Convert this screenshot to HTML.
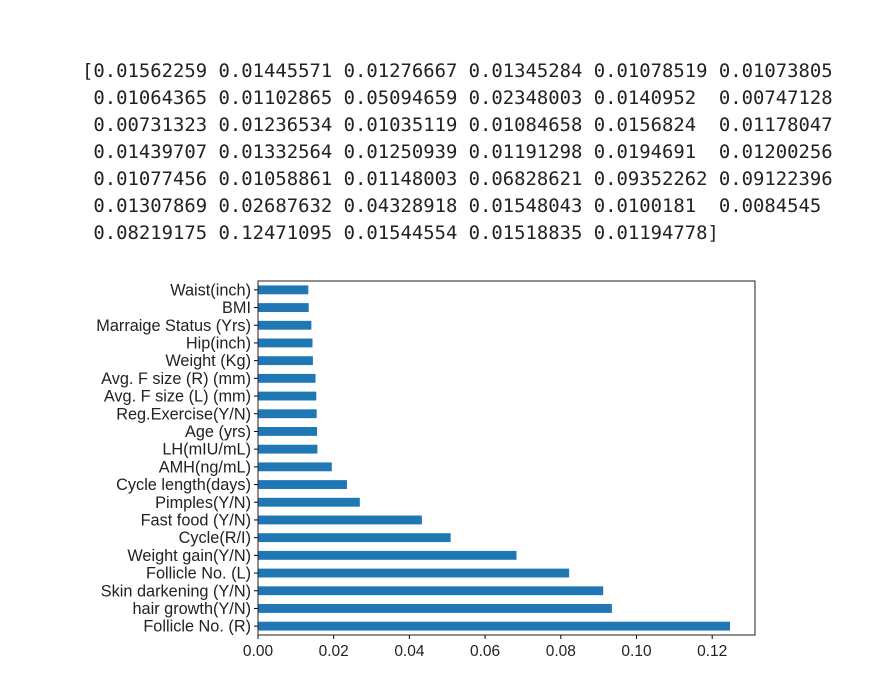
<!DOCTYPE html>
<html><head><meta charset="utf-8"><style>
body{margin:0;background:#fff;width:882px;height:673px;overflow:hidden;font-family:"DejaVu Sans","Liberation Sans",sans-serif}
pre{position:absolute;left:82px;top:58px;margin:0;font-family:"DejaVu Sans Mono","Liberation Mono",monospace;font-size:18.9px;line-height:27px;color:#222}
svg{position:absolute;left:0;top:0}
</style></head><body>
<pre>[0.01562259 0.01445571 0.01276667 0.01345284 0.01078519 0.01073805
 0.01064365 0.01102865 0.05094659 0.02348003 0.0140952  0.00747128
 0.00731323 0.01236534 0.01035119 0.01084658 0.0156824  0.01178047
 0.01439707 0.01332564 0.01250939 0.01191298 0.0194691  0.01200256
 0.01077456 0.01058861 0.01148003 0.06828621 0.09352262 0.09122396
 0.01307869 0.02687632 0.04328918 0.01548043 0.0100181  0.0084545
 0.08219175 0.12471095 0.01544554 0.01518835 0.01194778]</pre>
<svg id="chart" width="882" height="673"></svg>
<script>
const categories=["Follicle No. (R)","hair growth(Y/N)","Skin darkening (Y/N)","Follicle No. (L)","Weight gain(Y/N)","Cycle(R/I)","Fast food (Y/N)","Pimples(Y/N)","Cycle length(days)","AMH(ng/mL)","LH(mIU/mL)","Age (yrs)","Reg.Exercise(Y/N)","Avg. F size (L) (mm)","Avg. F size (R) (mm)","Weight (Kg)","Hip(inch)","Marraige Status (Yrs)","BMI","Waist(inch)"];
const values=[0.1247,0.0935,0.0912,0.0822,0.0683,0.0509,0.0433,0.0269,0.0235,0.0195,0.0157,0.0156,0.0155,0.0154,0.0152,0.0145,0.0144,0.0141,0.0134,0.0133];
const xTicks=[0,0.02,0.04,0.06,0.08,0.10,0.12];
const xTickLabels=["0.00","0.02","0.04","0.06","0.08","0.10","0.12"];
const svg=document.getElementById('chart');const NS='http://www.w3.org/2000/svg';
const L=258,R=755,T=281,B=635;
const xs=v=>L+v*(75.7/0.02);
const slot=(B-T)/categories.length;
const ys=i=>B-slot*(i+0.5);
function mk(t,a,p){const e=document.createElementNS(NS,t);for(const k in a)e.setAttribute(k,a[k]);(p||svg).appendChild(e);return e;}
values.forEach((v,i)=>{
 const r=mk('rect',{x:L,y:ys(i)-slot*0.25,width:xs(v)-L,height:slot*0.5,fill:'#1f77b4'});
 
 
 mk('line',{x1:L-4,x2:L,y1:ys(i),y2:ys(i),stroke:'#000','stroke-width':1});
 const t=mk('text',{x:L-7,y:ys(i)+5.5,'text-anchor':'end','font-size':'16.3','font-family':'Liberation Sans, sans-serif',fill:'#222'});
 t.textContent=categories[i];
 
 
});
xTicks.forEach((v,i)=>{
 mk('line',{x1:xs(v),x2:xs(v),y1:B,y2:B+4,stroke:'#000','stroke-width':1});
 const t=mk('text',{x:xs(v),y:B+21,'text-anchor':'middle','font-size':'15.5','font-family':'Liberation Sans, sans-serif',fill:'#222'});
 t.textContent=xTickLabels[i];
 
 
});
const f=mk('rect',{x:L,y:T,width:R-L,height:B-T,fill:'none',stroke:'#222','stroke-width':1});


</script>
</body></html>
